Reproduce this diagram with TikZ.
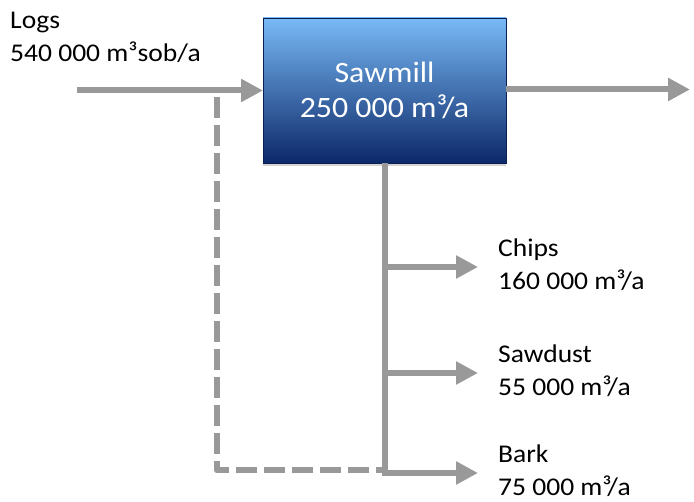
\documentclass[tikz,border=0pt]{standalone}
\usepackage{fontspec}
\setmainfont{Carlito}[FakeStretch=1.08]
\usepackage{xcolor}
\usepackage{tikz}
\usetikzlibrary{arrows.meta, positioning, shadows}

\definecolor{flowgray}{RGB}{153,153,153}
\definecolor{boxtop}{RGB}{120,185,245}
\definecolor{boxmid}{RGB}{45,105,200}
\definecolor{boxbot}{RGB}{12,40,105}

\begin{document}
\begin{tikzpicture}[x=1pt, y=-1pt, >={Triangle[length=22pt, width=22pt]},
    flow/.style={draw=flowgray, line width=6pt},
    lbl/.style={inner sep=0pt, align=left, font=\fontsize{25.5}{33}\selectfont},
    mill/.style={minimum width=243pt, minimum height=145pt, outer sep=0pt,
        top color=boxtop, middle color=boxmid, bottom color=boxbot,
        draw=boxbot!80!black, line width=0.6pt, text=white, align=center,
        font=\fontsize{29.5}{35}\selectfont,
        drop shadow={opacity=0.35, shadow xshift=0pt, shadow yshift=-3pt}}]
    \useasboundingbox (0,0) rectangle (694,502);

    % Sawmill
    \node[mill] (saw) at (384.5,90.5) {Sawmill\\250 000 m³/a};

    % Logs in, product out
    \node[lbl, anchor=west] (logs) at (10,37) {Logs\\540 000 m³sob/a};
    \coordinate (inStart) at (77,90.5);
    \coordinate (outEnd) at (690,89.5);
    \draw[flow, ->] (inStart) -- (saw.west);
    \draw[flow, ->] (saw.east |- outEnd) -- (outEnd);

    % Side products
    \foreach \y/\nm/\txt in {267/chips/{Chips\\160 000 m³/a},
                             373/sawdust/{Sawdust\\55 000 m³/a},
                             473/bark/{Bark\\75 000 m³/a}} {
        \coordinate (\nm End) at (478,\y);
        \node[lbl, anchor=west, right=20pt of \nm End, yshift=2pt] (\nm) {\txt};
    }
    \draw[flow, ->] (saw.south) |- (barkEnd);
    \draw[flow, ->] (saw.south |- chipsEnd) -- (chipsEnd);
    \draw[flow, ->] (saw.south |- sawdustEnd) -- (sawdustEnd);

    % Bypass (dashed)
    \coordinate (split) at (217,97);
    \draw[flow, dash pattern=on 21pt off 7pt, line join=round]
        (split) |- ([xshift=-3pt]saw.south |- 0,470.5);

\end{tikzpicture}
\end{document}
